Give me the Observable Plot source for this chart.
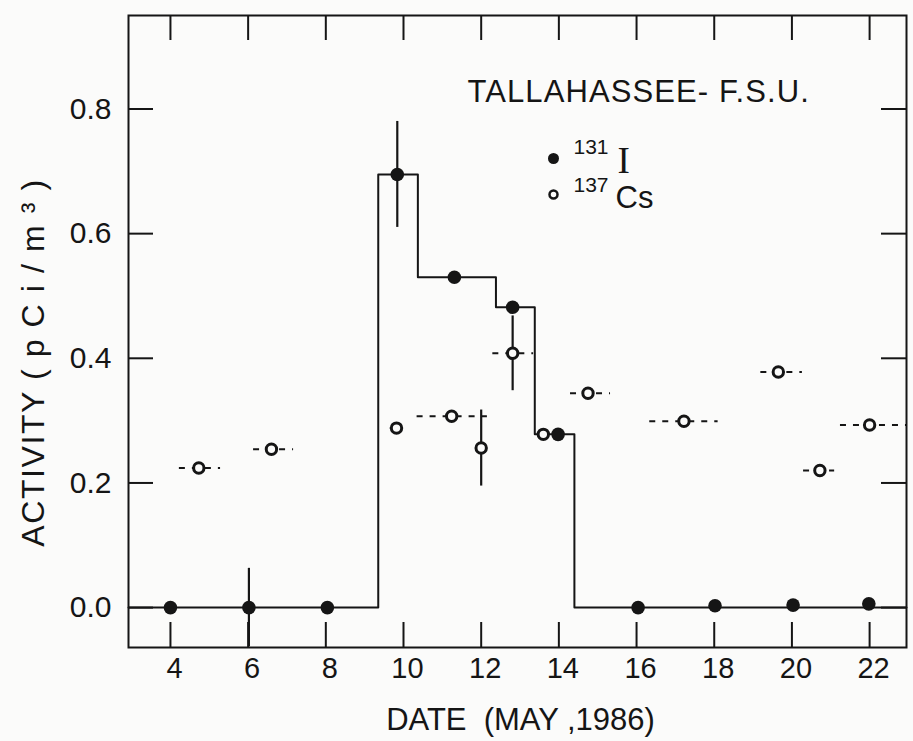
<!DOCTYPE html>
<html>
<head>
<meta charset="utf-8">
<script src="https://cdn.jsdelivr.net/npm/d3@7"></script>
<script src="https://cdn.jsdelivr.net/npm/@observablehq/plot@0.6"></script>
<style>
  html, body { margin: 0; padding: 0; background: #fbfbfa; }
  #chart svg { display: block; }
</style>
</head>
<body>
<div id="chart"></div>
<script>
// ---- data ----
const xTicks = [4, 6, 8, 10, 12, 14, 16, 18, 20, 22];
const yTicks = [0, 0.2, 0.4, 0.6, 0.8];

// I-131 (filled dots)
const iDays = [4.0, 6.02, 8.04, 9.84, 11.31, 12.81, 13.98, 16.04, 18.02, 20.03, 21.98];
const iVals = [0.0, 0.0, 0.0, 0.695, 0.53, 0.482, 0.278, 0.0, 0.003, 0.004, 0.006];
const iErr  = [0, 0.063, 0, 0.085, 0, 0, 0, 0, 0, 0, 0];

// I-131 step histogram (interval edges and levels)
const stepEdges  = [2.92, 9.35, 10.37, 12.38, 13.38, 14.4, 22.95];
const stepLevels = [0, 0.695, 0.53, 0.482, 0.278, 0, 0];

// Cs-137 (open circles)
const csDays = [4.73, 6.6, 9.82, 11.24, 12.0, 12.81, 13.6, 14.75, 17.22, 19.65, 20.72, 22.0];
const csVals = [0.224, 0.254, 0.288, 0.307, 0.256, 0.408, 0.278, 0.344, 0.299, 0.378, 0.22, 0.293];
const csFrom = [4.23, 6.14, 9.66, 10.35, null, 12.3, null, 14.3, 16.34, 19.2, 20.3, 21.25];
const csTo   = [5.29, 7.17, 9.99, 12.16, null, 13.35, null, 15.33, 18.1, 20.27, 21.1, 22.95];
const csErr  = [0, 0, 0, 0, 0.061, 0.06, 0, 0, 0, 0, 0, 0];

const titleText = "TALLAHASSEE- F.S.U.";
const xLabel = "DATE  (MAY ,1986)";
const yLabel = "ACTIVITY ( p C i / m \u00B3 )";

// ---- layout ----
const W = 913, H = 741;
const mL = 128, mR = 7, mT = 15, mB = 94;
const xDom = [2.92, 22.95], yDom = [-0.064, 0.95];
const pw = W - mL - mR, ph = H - mT - mB;
const xv = px => xDom[0] + (px - mL) / pw * (xDom[1] - xDom[0]);
const yv = py => yDom[1] - (py - mT) / ph * (yDom[1] - yDom[0]);
const tlx = 25 / pw * (xDom[1] - xDom[0]);
const tly = 25 / ph * (yDom[1] - yDom[0]);

const ink = "#151515";
const bg = "#fbfbfa";
const step = stepEdges.map((x, i) => ({x, y: stepLevels[i]}));
const iData = iDays.map((x, i) => ({x, y: iVals[i], e: iErr[i]}));
const csData = csDays.map((x, i) => ({x, y: csVals[i], a: csFrom[i], b: csTo[i], e: csErr[i]}));

const font = "'Liberation Sans', Arial, Helvetica, sans-serif";

const chart = Plot.plot({
  width: W, height: H,
  marginLeft: mL, marginRight: mR, marginTop: mT, marginBottom: mB,
  x: {domain: xDom, label: null},
  y: {domain: yDom, label: null},
  style: {fontFamily: font, color: ink, background: bg, overflow: "visible"},
  marks: [
    // inward ticks on all four sides
    Plot.ruleX(xTicks, {x: d => d, y1: yDom[0], y2: yDom[0] + tly, stroke: ink, strokeWidth: 2}),
    Plot.ruleX(xTicks, {x: d => d, y1: yDom[1] - tly, y2: yDom[1], stroke: ink, strokeWidth: 2}),
    Plot.ruleY(yTicks, {y: d => d, x1: xDom[0], x2: xDom[0] + tlx, stroke: ink, strokeWidth: 2}),
    Plot.ruleY(yTicks, {y: d => d, x1: xDom[1] - tlx, x2: xDom[1], stroke: ink, strokeWidth: 2}),
    Plot.axisX(xTicks, {tickSize: 0, tickPadding: 10, fontSize: 29, dx: 4, fill: ink}),
    Plot.axisY(yTicks, {tickSize: 0, tickPadding: 17, fontSize: 30, fill: ink, tickFormat: d3.format(".1f")}),
    // I-131 step histogram
    Plot.line(step, {x: "x", y: "y", curve: "step-after", stroke: ink, strokeWidth: 2}),
    // Cs-137 horizontal (dashed) interval bars
    Plot.ruleY(csData.filter(d => d.a != null), {y: "y", x1: "a", x2: "b", stroke: ink, strokeWidth: 2, strokeDasharray: "6,7"}),
    // vertical error bars
    Plot.ruleX(csData.filter(d => d.e > 0), {x: "x", y1: d => d.y - d.e, y2: d => d.y + d.e, stroke: ink, strokeWidth: 2.2}),
    Plot.ruleX(iData.filter(d => d.e > 0), {x: "x", y1: d => Math.max(yDom[0], d.y - d.e), y2: d => d.y + d.e, stroke: ink, strokeWidth: 2.2}),
    // points
    Plot.dot(csData, {x: "x", y: "y", r: 5.2, fill: bg, stroke: ink, strokeWidth: 3}),
    Plot.dot(iData, {x: "x", y: "y", r: 6.8, fill: ink, stroke: "none"}),
    Plot.frame({stroke: ink, strokeWidth: 2}),
    // title & legend
    Plot.text([titleText], {x: xv(467), y: yv(92), text: d => d, textAnchor: "start", fontSize: 31, fill: ink}),
    Plot.dot([0], {x: () => xv(553), y: () => yv(158), r: 5.5, fill: ink, stroke: "none"}),
    Plot.dot([0], {x: () => xv(553), y: () => yv(194), r: 4, fill: bg, stroke: ink, strokeWidth: 2.5}),
    Plot.text(["131"], {x: xv(573), y: yv(147), text: d => d, textAnchor: "start", fontSize: 21, fill: ink}),
    Plot.text(["I"], {x: xv(617), y: yv(161), text: d => d, textAnchor: "start", fontSize: 37, fontFamily: "'Liberation Serif', 'Times New Roman', serif", fill: ink}),
    Plot.text(["137"], {x: xv(573), y: yv(185), text: d => d, textAnchor: "start", fontSize: 21, fill: ink}),
    Plot.text(["Cs"], {x: xv(615), y: yv(198), text: d => d, textAnchor: "start", fontSize: 31, fill: ink}),
    // axis titles
    Plot.text([xLabel], {x: xv(520), y: yv(720), text: d => d, fontSize: 31, fill: ink}),
    Plot.text([yLabel], {x: xv(33), y: yv(362), text: d => d, rotate: -90, fontSize: 32, fill: ink})
  ]
});
// a little letter spacing, as in the typeset original
d3.select(chart).selectAll("text")
  .filter(function () { return this.textContent === titleText; })
  .style("letter-spacing", "1.1px");
d3.select(chart).selectAll("text")
  .filter(function () { return this.textContent === yLabel; })
  .style("letter-spacing", "1.6px");
document.getElementById("chart").appendChild(chart);
</script>
</body>
</html>
